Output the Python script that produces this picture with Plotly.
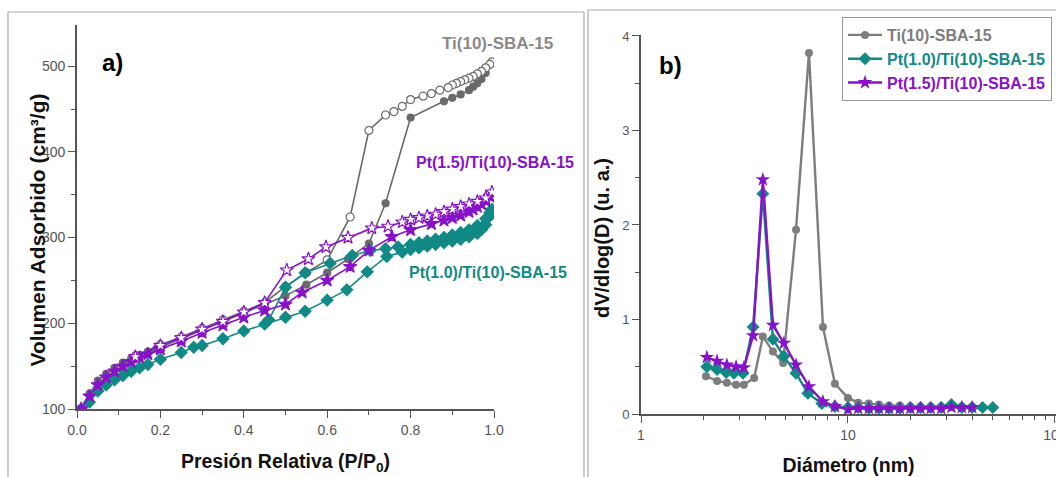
import plotly.graph_objects as go

# ---------------- (a) N2 isotherms ----------------
ti_ads_p = [0.01, 0.03, 0.05, 0.07, 0.09, 0.11, 0.13, 0.15, 0.17, 0.19, 0.25, 0.30, 0.35, 0.40,
            0.45, 0.50, 0.55, 0.60, 0.65, 0.70, 0.74, 0.80, 0.88, 0.90, 0.92, 0.94, 0.95, 0.96,
            0.97, 0.98, 0.99]
ti_ads_v = [101, 118, 133, 141, 148, 154, 159, 163, 167, 170, 182, 192, 202, 212,
            222, 232, 245, 259, 275, 293, 340, 440, 459, 463, 467, 472, 476, 480,
            485, 492, 502]
ti_des_p = [0.995, 0.99, 0.98, 0.97, 0.96, 0.95, 0.94, 0.93, 0.92, 0.91, 0.90, 0.89, 0.87, 0.85,
            0.83, 0.80, 0.78, 0.76, 0.74, 0.70, 0.655, 0.60, 0.55, 0.50, 0.45, 0.40, 0.35, 0.30,
            0.25, 0.20, 0.14]
ti_des_v = [505, 502, 498, 494, 491, 488, 486, 484, 482, 480, 478, 475, 472, 468,
            465, 461, 453, 447, 443, 425, 324, 274, 259, 243, 224, 214, 204, 194,
            184, 175, 162]

pt15_ads_p = [0.01, 0.03, 0.05, 0.07, 0.09, 0.11, 0.13, 0.15, 0.17, 0.20, 0.25, 0.30, 0.35, 0.40,
              0.45, 0.50, 0.54, 0.60, 0.655, 0.70, 0.755, 0.80, 0.85, 0.88, 0.90, 0.92, 0.94,
              0.95, 0.96, 0.97, 0.98, 0.99]
pt15_ads_v = [100, 115, 128, 137, 144, 150, 155, 160, 164, 170, 179, 189, 198, 207,
              215, 222, 236, 250, 266, 285, 301, 309, 316, 320, 323, 326, 330,
              333, 336, 339, 343, 348]
pt15_des_p = [0.995, 0.98, 0.96, 0.94, 0.92, 0.90, 0.88, 0.86, 0.84, 0.82, 0.80, 0.78, 0.746,
              0.707, 0.65, 0.597, 0.555, 0.503, 0.45, 0.40, 0.35, 0.30, 0.25, 0.20, 0.14]
pt15_des_v = [353, 346, 342, 339, 336, 333, 330, 327, 325, 323, 321, 318, 313,
              311, 300, 289, 275, 262, 224, 213, 202, 193, 183, 174, 161]

pt10_ads_p = [0.01, 0.03, 0.05, 0.07, 0.09, 0.11, 0.13, 0.15, 0.17, 0.20, 0.25, 0.28, 0.30, 0.35,
              0.40, 0.45, 0.50, 0.547, 0.60, 0.647, 0.696, 0.743, 0.78, 0.80, 0.82, 0.84, 0.86,
              0.88, 0.90, 0.92, 0.94, 0.96, 0.97, 0.98, 0.99]
pt10_ads_v = [100, 108, 121, 128, 134, 139, 144, 148, 152, 158, 166, 172, 174, 182,
              191, 199, 207, 214, 227, 239, 260, 278, 283, 286, 288, 290, 292,
              294, 296, 298, 301, 305, 309, 315, 325]
pt10_des_p = [0.995, 0.99, 0.98, 0.96, 0.94, 0.92, 0.90, 0.88, 0.86, 0.84, 0.82, 0.80, 0.77,
              0.74, 0.703, 0.66, 0.607, 0.547, 0.50, 0.46]
pt10_des_v = [333, 329, 322, 314, 309, 306, 303, 300, 298, 296, 294, 292, 289,
              287, 285, 279, 270, 259, 242, 204]

# ---------------- (b) pore size distribution ----------------
ti_d = [2.06, 2.33, 2.60, 2.88, 3.14, 3.52, 3.88, 4.34, 4.86, 5.61, 6.48, 7.57, 8.65,
        10.0, 11.2, 12.6, 14.1, 15.8, 17.8, 20.0, 22.4, 25.1, 28.2, 31.6, 35.5, 39.8, 44.7]
ti_dv = [0.40, 0.35, 0.33, 0.31, 0.31, 0.38, 0.82, 0.66, 0.54, 1.95, 3.82, 0.92, 0.32,
         0.17, 0.12, 0.11, 0.10, 0.09, 0.09, 0.08, 0.08, 0.08, 0.08, 0.08, 0.08, 0.08, 0.07]

pt10_d = [2.08, 2.33, 2.58, 2.81, 3.11, 3.48, 3.88, 4.34, 4.90, 5.61, 6.40, 7.48, 8.65,
          10.0, 11.2, 12.6, 14.1, 15.8, 17.8, 20.0, 22.4, 25.1, 28.2, 31.6, 35.5, 39.8, 44.7, 50.1]
pt10_dv = [0.50, 0.47, 0.44, 0.43, 0.43, 0.92, 2.33, 0.79, 0.61, 0.43, 0.22, 0.11, 0.08,
           0.07, 0.07, 0.06, 0.06, 0.06, 0.06, 0.07, 0.07, 0.07, 0.07, 0.10, 0.07, 0.07, 0.07, 0.07]

pt15_d = [2.08, 2.33, 2.60, 2.88, 3.14, 3.48, 3.88, 4.34, 4.90, 5.61, 6.48, 7.57, 8.65,
          10.0, 11.2, 12.6, 14.1, 15.8, 17.8, 20.0, 22.4, 25.1, 28.2, 31.6, 35.5, 39.8]
pt15_dv = [0.60, 0.56, 0.52, 0.50, 0.49, 0.83, 2.48, 0.94, 0.75, 0.52, 0.29, 0.13, 0.08,
           0.05, 0.06, 0.06, 0.06, 0.06, 0.06, 0.06, 0.06, 0.06, 0.06, 0.07, 0.07, 0.07]

names = ["Ti(10)-SBA-15", "Pt(1.0)/Ti(10)-SBA-15", "Pt(1.5)/Ti(10)-SBA-15"]

GRAY = "#7d7d7d"
GRAY_DARK = "#6a6a6a"
TEAL = "#118a85"
PURPLE = "#8712c9"
FONT = "Arial, Liberation Sans, sans-serif"

fig = go.Figure()


def iso(x, y, color, symbol, size, filled):
    fig.add_trace(go.Scatter(
        x=x, y=y, mode="lines+markers", showlegend=False,
        line=dict(color=color, width=1.6),
        marker=dict(symbol=symbol, size=size,
                    color=color if filled else "white",
                    line=dict(color=color, width=1.2)),
        xaxis="x", yaxis="y"))


iso(ti_ads_p, ti_ads_v, GRAY_DARK, "circle", 7, True)
iso(ti_des_p, ti_des_v, GRAY_DARK, "circle", 8, False)
iso(pt10_ads_p, pt10_ads_v, TEAL, "diamond", 9, True)
iso(pt10_des_p, pt10_des_v, TEAL, "diamond", 9, True)
iso(pt15_ads_p, pt15_ads_v, PURPLE, "star", 10, True)
iso(pt15_des_p, pt15_des_v, PURPLE, "star", 10, False)

# Distribution curves with the legend
for d, v, color, sym, size, name in [
    (ti_d, ti_dv, GRAY, "circle", 8, names[0]),
    (pt10_d, pt10_dv, TEAL, "diamond", 10, names[1]),
    (pt15_d, pt15_dv, PURPLE, "star", 11, names[2]),
]:
    fig.add_trace(go.Scatter(
        x=d, y=v, mode="lines+markers",
        name=f"<span style='color:{color}'><b>{name}</b></span>",
        line=dict(color=color, width=2.4),
        marker=dict(symbol=sym, size=size, color=color, line=dict(width=0)),
        xaxis="x2", yaxis="y2"))

W, H = 1056, 477


def px(x):
    return x / W


def py(y):
    return (H - y) / H


def axis_style(size):
    return dict(
        showline=True, linecolor="#555", linewidth=1.6, mirror=False,
        ticks="outside", tickcolor="#555", ticklen=7, tickwidth=1.4,
        tickfont=dict(family=FONT, size=size, color="#555"),
        showgrid=False, zeroline=False, automargin=False,
    )


fig.update_layout(
    width=W, height=H,
    margin=dict(l=0, r=0, t=0, b=0, autoexpand=False),
    paper_bgcolor="white", plot_bgcolor="white",
    font=dict(family=FONT),
    xaxis=dict(domain=[px(77), px(494)], range=[0, 1.0], dtick=0.2, tickformat=".1f",
               minor=dict(dtick=0.1, ticks="outside", ticklen=4, tickcolor="#555"),
               anchor="y",
               title=dict(text="<b>Presión Relativa (P/P<sub>0</sub>)</b>",
                          font=dict(family=FONT, size=19.5, color="#111"), standoff=18),
               **axis_style(14)),
    yaxis=dict(domain=[py(409), py(25)], range=[100, 548], dtick=100,
               minor=dict(dtick=50, ticks="outside", ticklen=4, tickcolor="#555"),
               anchor="x", **axis_style(14)),
    xaxis2=dict(domain=[px(641), 1.0], type="log", range=[0, 2.005],
                tickvals=[1, 10, 100], ticktext=["1", "10", "100"],
                ticklabeloverflow="allow",
                minor=dict(dtick="D1", ticks="outside", ticklen=4, tickcolor="#555"),
                anchor="y2",
                title=dict(text="<b>Diámetro (nm)</b>",
                           font=dict(family=FONT, size=19.5, color="#111"), standoff=17),
                **axis_style(14)),
    yaxis2=dict(domain=[py(414), py(35)], range=[0, 4.01], dtick=1,
                minor=dict(dtick=0.5, ticks="outside", ticklen=4, tickcolor="#555"),
                anchor="x2", **axis_style(13)),
    legend=dict(x=px(842), y=py(17), xanchor="left", yanchor="top",
                bgcolor="white", bordercolor="#999", borderwidth=1,
                font=dict(family=FONT, size=16), itemwidth=34,
                tracegroupgap=0),
    shapes=[
        dict(type="rect", xref="paper", yref="paper", x0=px(8), x1=px(584), y0=-0.2, y1=py(12),
             line=dict(color="#aaa", width=1.2), layer="below"),
        dict(type="rect", xref="paper", yref="paper", x0=px(588), x1=1.2, y0=-0.2, y1=py(10),
             line=dict(color="#aaa", width=1.2), layer="below"),
    ],
    annotations=[
        # y-axis titles
        dict(text="<b>Volumen Adsorbido (cm³/g)</b>", textangle=-90, x=px(24), y=py(230),
             xref="paper", yref="paper", showarrow=False,
             font=dict(family=FONT, size=21, color="#111")),
        dict(text="<b>dV/dlog(D) (u. a.)</b>", textangle=-90, x=px(602), y=py(238),
             xref="paper", yref="paper", showarrow=False,
             font=dict(family=FONT, size=20, color="#111")),
        # panel tags
        dict(text="<b>a)</b>", x=px(100), y=py(47), xref="paper", yref="paper",
             showarrow=False, font=dict(family=FONT, size=24, color="black")),
        dict(text="<b>b)</b>", x=px(670), y=py(50), xref="paper", yref="paper",
             showarrow=False, font=dict(family=FONT, size=24, color="black")),
        # curve labels
        dict(text="<b>Ti(10)-SBA-15</b>", x=px(497), y=py(32), xref="paper", yref="paper",
             showarrow=False, font=dict(family=FONT, size=17, color="#8a8a8a")),
        dict(text="<b>Pt(1.5)/Ti(10)-SBA-15</b>", x=px(495), y=py(163), xref="paper", yref="paper",
             showarrow=False, font=dict(family=FONT, size=16, color=PURPLE)),
        dict(text="<b>Pt(1.0)/Ti(10)-SBA-15</b>", x=px(488), y=py(272), xref="paper", yref="paper",
             showarrow=False, font=dict(family=FONT, size=16, color=TEAL)),
    ],
)

fig.write_html("out.html")
